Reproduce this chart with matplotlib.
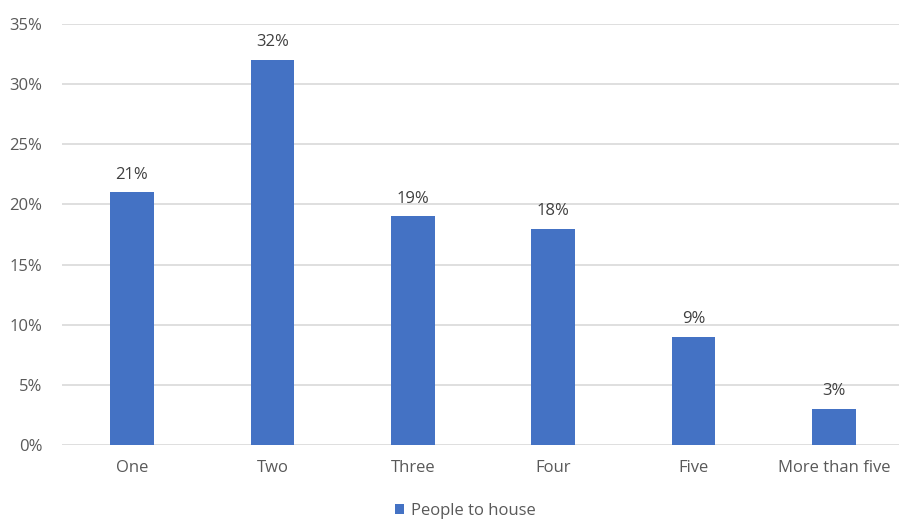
import matplotlib.pyplot as plt
from matplotlib.ticker import MultipleLocator, FuncFormatter

plt.rcParams['font.family'] = ['Open Sans', 'DejaVu Sans']

# chart data
categories = ["One", "Two", "Three", "Four", "Five", "More than five"]
shares = [21, 32, 19, 18, 9, 3]
series_name = "People to house"

bar_color = "#4472C4"
text_color = "#595959"

fig = plt.figure(figsize=(8.99, 5.20), dpi=100)
ax = fig.add_axes([0.0687, 0.1442, 0.937, 0.8096])

x = list(range(len(categories)))
bars = ax.bar(x, shares, width=0.31, color=bar_color, label=series_name, zorder=3)

# value labels above bars
for xi, v in zip(x, shares):
    ax.annotate(f"{v}%", (xi, v), xytext=(0, 7), textcoords="offset points",
                ha="center", va="bottom", fontsize=12, color="#404040")

ax.set_xlim(-0.5, len(categories) - 0.5)
ax.set_ylim(0, 35)
ax.yaxis.set_major_locator(MultipleLocator(5))
ax.yaxis.set_major_formatter(FuncFormatter(lambda v, p: f"{v:.0f}%"))
ax.set_xticks(x)
ax.set_xticklabels(categories)

ax.grid(axis="y", color="#D9D9D9", linewidth=1.2, zorder=0)
for s in ax.spines.values():
    s.set_visible(False)
ax.tick_params(axis="both", length=0, labelsize=12, colors=text_color)
ax.tick_params(axis="y", pad=14)
ax.tick_params(axis="x", pad=11)

leg = fig.legend(handles=[bars], labels=[series_name], loc="center",
                 bbox_to_anchor=(465 / 899, 1 - 511 / 520), frameon=False,
                 fontsize=12, handlelength=0.55, handleheight=0.55,
                 handletextpad=0.4)
for t in leg.get_texts():
    t.set_color(text_color)

fig.savefig("out.png", dpi=100)
